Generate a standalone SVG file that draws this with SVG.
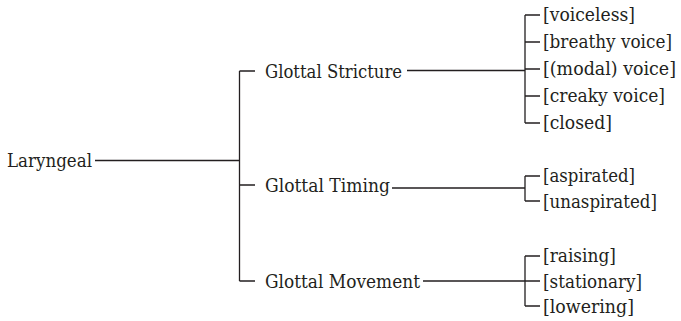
<svg xmlns="http://www.w3.org/2000/svg" width="681" height="321" viewBox="0 0 681 321">
<style>
text{font-family:'DejaVu Serif',serif;font-size:19px;fill:#231f20}
.c{stroke:#231f20;stroke-width:1.3;fill:none}
</style>
<rect width="681" height="321" fill="#fff"/>
<g id="connectors">
<path class="c" d="M95,160.5H239.5M239.5,71V281M239.5,71H255M239.5,185H255M239.5,281H255"/>
<path class="c" d="M407,70.5H525M525,15V123M525,15H540M525,42H540M525,69H540M525,96H540M525,123H540"/>
<path class="c" d="M392,188H525M525,176V201M525,176H540M525,201H540"/>
<path class="c" d="M423,281H525M525,256V306M525,256H540M525,281H540M525,306H540"/>
</g>
<g id="laryngeal"><text x="7" y="167" textLength="85" lengthAdjust="spacingAndGlyphs">Laryngeal</text></g>
<g id="stricture"><text x="265" y="78" textLength="137" lengthAdjust="spacingAndGlyphs">Glottal Stricture</text></g>
<g id="timing"><text x="265" y="192" textLength="125" lengthAdjust="spacingAndGlyphs">Glottal Timing</text></g>
<g id="movement"><text x="265" y="288" textLength="155" lengthAdjust="spacingAndGlyphs">Glottal Movement</text></g>
<g id="voiceless"><text x="543" y="21" textLength="92" lengthAdjust="spacingAndGlyphs">[voiceless]</text></g>
<g id="breathy"><text x="543" y="48" textLength="129" lengthAdjust="spacingAndGlyphs">[breathy voice]</text></g>
<g id="modal"><text x="543" y="75" textLength="133" lengthAdjust="spacingAndGlyphs">[(modal) voice]</text></g>
<g id="creaky"><text x="543" y="102" textLength="122" lengthAdjust="spacingAndGlyphs">[creaky voice]</text></g>
<g id="closed"><text x="543" y="129" textLength="69" lengthAdjust="spacingAndGlyphs">[closed]</text></g>
<g id="aspirated"><text x="543" y="182" textLength="92" lengthAdjust="spacingAndGlyphs">[aspirated]</text></g>
<g id="unaspirated"><text x="543" y="208" textLength="114" lengthAdjust="spacingAndGlyphs">[unaspirated]</text></g>
<g id="raising"><text x="543" y="262" textLength="73" lengthAdjust="spacingAndGlyphs">[raising]</text></g>
<g id="stationary"><text x="543" y="288" textLength="99" lengthAdjust="spacingAndGlyphs">[stationary]</text></g>
<g id="lowering"><text x="543" y="313" textLength="91" lengthAdjust="spacingAndGlyphs">[lowering]</text></g>
</svg>
